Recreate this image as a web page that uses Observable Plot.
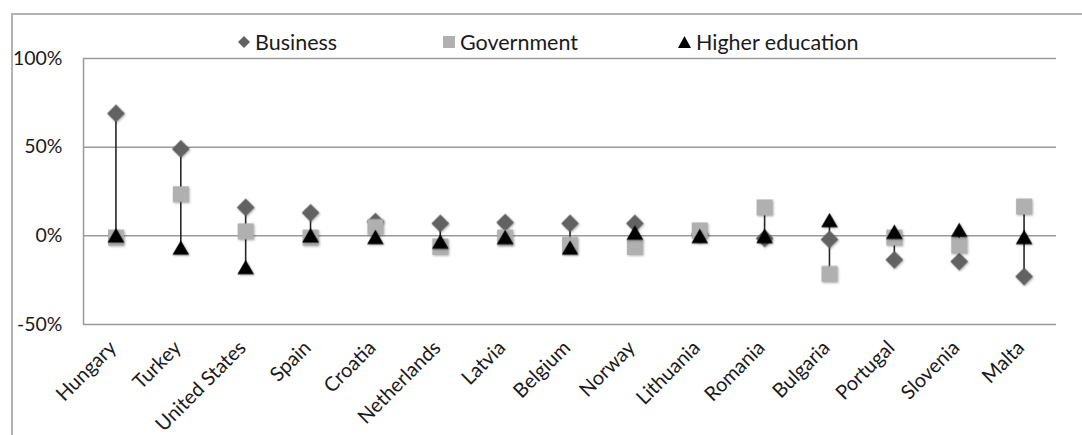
<!DOCTYPE html>
<html>
<head>
<meta charset="utf-8">
<script src="https://cdn.jsdelivr.net/npm/d3@7"></script>
<script src="https://cdn.jsdelivr.net/npm/@observablehq/plot@0.6"></script>
<style>
  html, body { margin: 0; padding: 0; background: #fff; }
  body { width: 1082px; height: 435px; position: relative; overflow: hidden; font-family: Lato, sans-serif; }
  #border { position: absolute; left: 11px; top: 13px; width: 1100px; height: 460px; border: 2px solid #b3b3b3; box-sizing: border-box; }
  #chart { position: absolute; left: 0; top: 0; }
  #chart g[aria-label="dot"] { filter: drop-shadow(1px 1px 1.2px rgba(0,0,0,0.3)); }
  #legend { position: absolute; top: 29px; left: 0; height: 26px; font-size: 21.5px; color: #1a1a1a; }
  .item { position: absolute; top: 0; white-space: nowrap; display: flex; align-items: center; height: 26px; }
  .item svg { margin-right: 5px; }
</style>
</head>
<body>
<div id="border"></div>
<div id="chart"></div>
<div id="legend"></div>
<script>
const countries = ["Hungary","Turkey","United States","Spain","Croatia","Netherlands","Latvia","Belgium","Norway","Lithuania","Romania","Bulgaria","Portugal","Slovenia","Malta"];
const business   = [69, 49, 16, 13, 8, 7, 7.5, 7, 7, 1, -1.5, -2, -13.5, -14.5, -23];
const government = [-1, 23.5, 2.5, -1, 5, -6, -1, -5, -6, 3, 16, -21.5, -1, -5.5, 16.5];
const higher     = [-1, -8, -19, -1, -2, -4.5, -2, -8, 0.5, -1.5, -1.5, 7.5, 1, 2, -2];
const yTicks = [-50, 0, 50, 100];
const seriesNames = ["Business", "Government", "Higher education"];
const seriesColors = ["#626262", "#b0b0b0", "#000000"];

const data = countries.map((c, i) => {
  const vals = [business[i], government[i], higher[i]];
  return {country: c, business: business[i], government: government[i], higher: higher[i],
          lo: Math.min(...vals), hi: Math.max(...vals)};
});

const chart = Plot.plot({
  width: 1082,
  height: 435,
  marginLeft: 83,
  marginRight: 26,
  marginTop: 58,
  marginBottom: 111,
  style: {fontFamily: "Lato, sans-serif", fontSize: "19px", color: "#1a1a1a", background: "transparent"},
  x: {type: "band", domain: countries, padding: 0, round: false, label: null},
  y: {domain: [-50, 100], label: null},
  marks: [
    Plot.gridY(yTicks, {stroke: "#9a9a9a", strokeOpacity: 1, strokeWidth: 1.5}),
    Plot.axisY(yTicks, {tickSize: 0, tickPadding: 21, tickFormat: d => d + "%", label: null, fontSize: 19.5}),
    Plot.ruleX([countries[0]], {x: d => d, dx: -32.4, y1: -50, y2: 100, stroke: "#9a9a9a", strokeWidth: 1.5}),
    Plot.axisX({tickSize: 0, tickPadding: 20, dx: -3, tickRotate: -45, label: null, fontSize: 20}),
    Plot.ruleX(data, {x: "country", y1: "lo", y2: "hi", stroke: "#262626", strokeWidth: 1.6}),
    Plot.dot(data, {x: "country", y: "business", symbol: "diamond2", r: 8, fill: seriesColors[0]}),
    Plot.dot(data, {x: "country", y: "government", symbol: "square", r: 9, fill: seriesColors[1]}),
    Plot.dot(data, {x: "country", y: "higher", symbol: "triangle", r: 6.2, fill: seriesColors[2]})
  ]
});
document.getElementById("chart").appendChild(chart);

// Legend
const legendLeft = [238, 443, 678];
const shapes = [
  '<svg width="12" height="14" viewBox="-6 -7 12 14"><path d="M0,-6L6,0L0,6L-6,0Z" fill="' + seriesColors[0] + '"/></svg>',
  '<svg width="12" height="14" viewBox="-6 -7 12 14"><rect x="-6" y="-6" width="12" height="12" fill="' + seriesColors[1] + '"/></svg>',
  '<svg width="13" height="14" viewBox="-6.5 -7 13 14"><path d="M0,-6L6.5,6L-6.5,6Z" fill="' + seriesColors[2] + '"/></svg>'
];
const legend = document.getElementById("legend");
seriesNames.forEach((name, i) => {
  const el = document.createElement("div");
  el.className = "item";
  el.style.left = legendLeft[i] + "px";
  el.innerHTML = shapes[i] + "<span>" + name + "</span>";
  legend.appendChild(el);
});
</script>
</body>
</html>
